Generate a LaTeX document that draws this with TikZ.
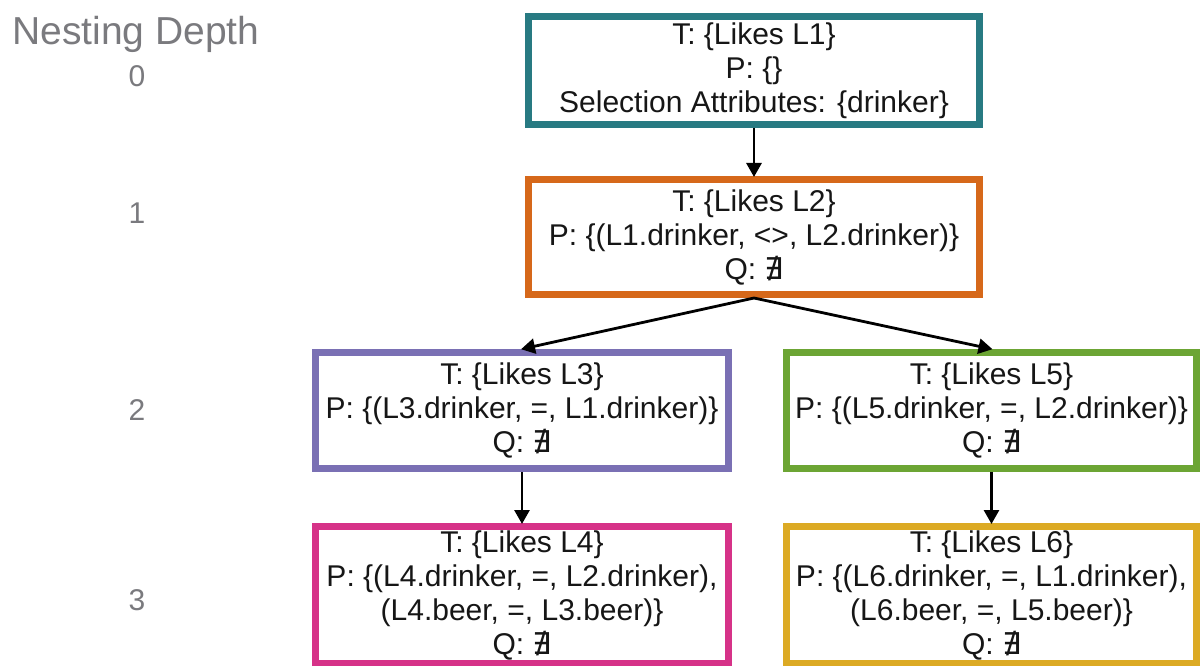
\documentclass[tikz,border=0pt]{standalone}
\usepackage{fontspec}
\setmainfont{Liberation Sans}
\newfontfamily\symfont{DejaVu Sans}
\usetikzlibrary{arrows.meta}

\definecolor{inktext}{RGB}{22,22,22}
\definecolor{labelgray}{RGB}{122,122,126}
\definecolor{cteal}{RGB}{40,122,130}
\definecolor{corange}{RGB}{214,104,26}
\definecolor{cpurple}{RGB}{122,112,180}
\definecolor{cgreen}{RGB}{108,165,52}
\definecolor{cmagenta}{RGB}{214,50,136}
\definecolor{cgold}{RGB}{220,170,36}

\newcommand{\notexists}{{\symfont\char"2204}}

\tikzset{
  qbox/.style={draw=#1, line width=7pt, fill=white, rectangle, inner sep=0pt,
    align=center, text=inktext, font=\fontsize{30}{34}\selectfont},
  depthnum/.style={text=labelgray, font=\fontsize{30}{34}\selectfont, inner sep=0pt},
  arr/.style={line width=2.8pt, draw=black,
    -{Triangle[length=14pt,width=15pt]}, shorten >=-1pt}
}

\begin{document}
\begin{tikzpicture}[x=1pt,y=-1pt]
  \useasboundingbox (0,0) rectangle (1203,666);

  % depth column
  \node[anchor=base west, inner sep=0pt, text=labelgray,
        font=\fontsize{39}{44}\selectfont] (hdr) at (12,45) {Nesting Depth};
  \node[depthnum] (d0) at (137,76)  {0};
  \node[depthnum] (d1) at (137,213) {1};
  \node[depthnum] (d2) at (137,410) {2};
  \node[depthnum] (d3) at (137,600) {3};

  % query blocks
  \node[qbox=cteal, minimum width=451pt, minimum height=108pt] (n0) at (754,70.5)
    {T: \{Likes L1\}\\P: \{\}\\Selection Attributes: \{drinker\}};
  \node[qbox=corange, minimum width=451pt, minimum height=115pt] (n1) at (754,237)
    {T: \{Likes L2\}\\P: \{(L1.drinker, <>, L2.drinker)\}\\Q: \notexists};
  \node[qbox=cpurple, minimum width=413pt, minimum height=116pt] (n2l) at (522,410.5)
    {T: \{Likes L3\}\\P: \{(L3.drinker, =, L1.drinker)\}\\Q: \notexists};
  \node[qbox=cgreen, minimum width=410pt, minimum height=116pt] (n2r) at (991.5,410.5)
    {T: \{Likes L5\}\\P: \{(L5.drinker, =, L2.drinker)\}\\Q: \notexists};
  \node[qbox=cmagenta, minimum width=413pt, minimum height=137pt] (n3l) at (522,595)
    {T: \{Likes L4\}\\P: \{(L4.drinker, =, L2.drinker),\\(L4.beer, =, L3.beer)\}\\Q: \notexists};
  \node[qbox=cgold, minimum width=410pt, minimum height=137pt] (n3r) at (991.5,595)
    {T: \{Likes L6\}\\P: \{(L6.drinker, =, L1.drinker),\\(L6.beer, =, L5.beer)\}\\Q: \notexists};

  % nesting arrows
  \draw[arr] (n0.south) -- (n1.north);
  \draw[arr] (n1.south) -- (n2l.north);
  \draw[arr] (n1.south) -- (n2r.north);
  \draw[arr] (n2l.south) -- (n3l.north);
  \draw[arr] (n2r.south) -- (n3r.north);
\end{tikzpicture}
\end{document}
